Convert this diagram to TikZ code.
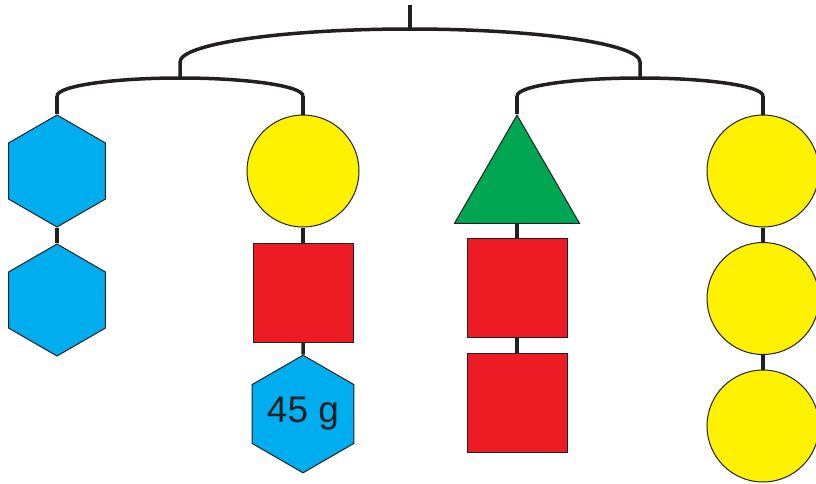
\documentclass[tikz,border=0pt]{standalone}
\usepackage{fontspec}
\setmainfont{Liberation Sans}
\usetikzlibrary{shapes.geometric}
\definecolor{ink}{RGB}{35,31,32}
\definecolor{skyb}{RGB}{0,174,239}
\definecolor{sunb}{RGB}{255,242,0}
\definecolor{redb}{RGB}{237,28,36}
\definecolor{leafb}{RGB}{0,166,81}

\begin{document}
\begin{tikzpicture}[x=1pt,y=-1pt,
  wire/.style={draw=ink,line width=3.5pt},
  piece/.style={draw=ink,line width=1pt,inner sep=0pt},
  hex/.style={piece,regular polygon,regular polygon sides=6,shape border rotate=30,minimum size=112pt,fill=skyb},
  ball/.style={piece,circle,minimum size=112pt,fill=sunb},
  block/.style={piece,rectangle,minimum width=100pt,minimum height=99pt,fill=redb},
  tri/.style={piece,regular polygon,regular polygon sides=3,minimum size=144.3pt,fill=leafb}]
\useasboundingbox (0,0) rectangle (816,483);

% hanging points
\coordinate (hook) at (410,5);
\coordinate (top) at (410,29);
\coordinate (l) at (180,78);
\coordinate (r) at (640,78);
\coordinate (a1) at (57,96);
\coordinate (a2) at (303,96);
\coordinate (b1) at (517,96);
\coordinate (b2) at (763,96);

% bars
\draw[wire] (hook) -- (top);
\draw[wire] (l) -- ++(0,-16) arc[start angle=180,end angle=360,x radius=230,y radius=33] -- (r);
\draw[wire] (a1) arc[start angle=180,end angle=360,x radius=123,y radius=18];
\draw[wire] (b1) arc[start angle=180,end angle=360,x radius=123,y radius=18];

% pieces
\node[hex] at (57,171) (h1) {};
\node[hex] at (57,300) (h2) {};
\node[ball] at (303,171) (c1) {};
\node[block] at (303,292.5) (s1) {};
\node[hex,text=ink,font=\fontsize{37}{40}\selectfont] at (303,414) (h3) {45 g};
\node[tri] at (517,187.2) (t1) {};
\node[block] at (517,288) (s2) {};
\node[block] at (517,402.5) (s3) {};
\node[ball] at (763,171) (c2) {};
\node[ball] at (763,298.5) (c3) {};
\node[ball] at (763,426) (c4) {};

% strings
\draw[wire] (a1) -- (h1);
\draw[wire] (h1) -- (h2);
\draw[wire] (a2) -- (c1);
\draw[wire] (c1) -- (s1);
\draw[wire] (s1) -- (h3);
\draw[wire] (b1) -- (t1);
\draw[wire] (t1) -- (s2);
\draw[wire] (s2) -- (s3);
\draw[wire] (b2) -- (c2);
\draw[wire] (c2) -- (c3);
\draw[wire] (c3) -- (c4);
\end{tikzpicture}
\end{document}
